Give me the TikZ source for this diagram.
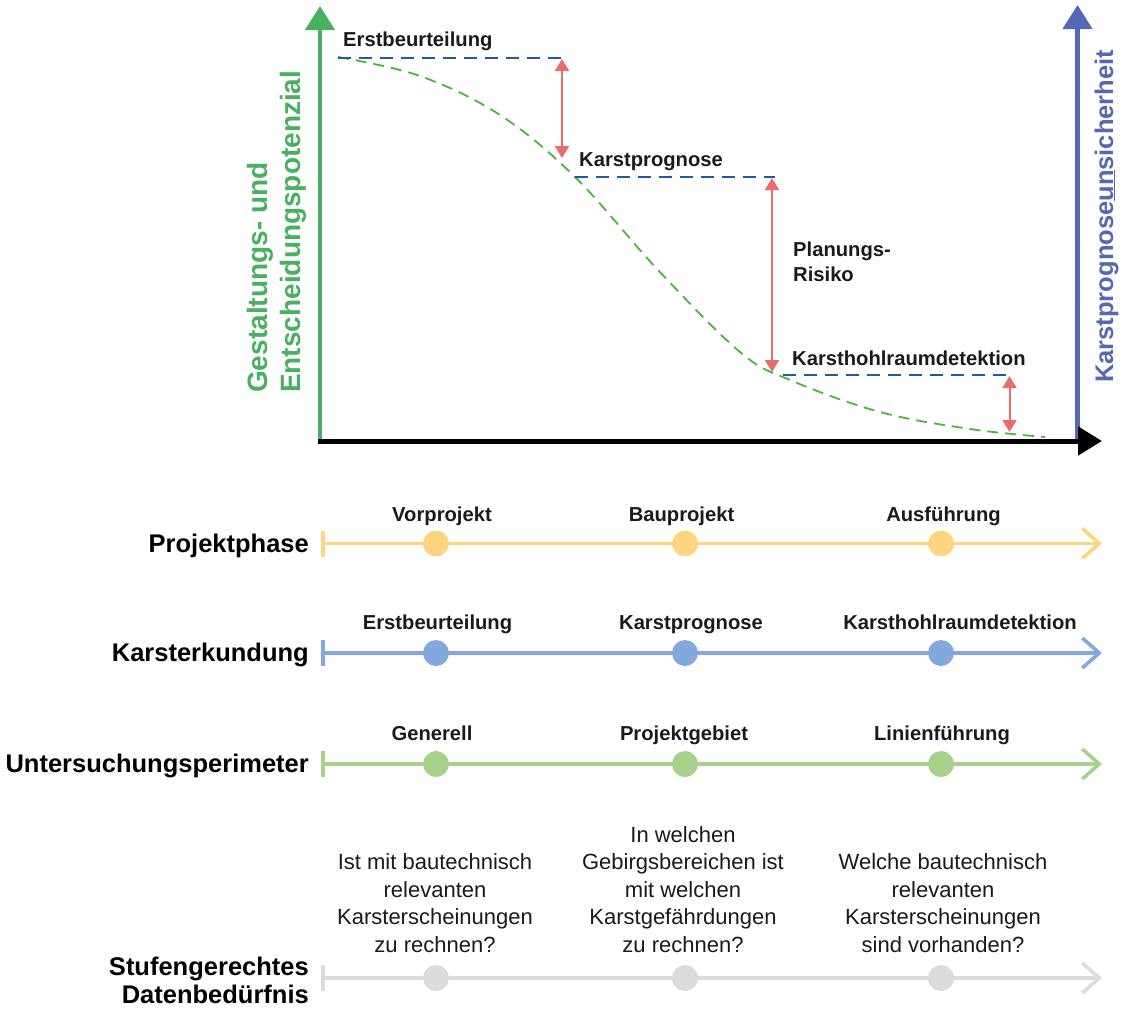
\documentclass[tikz,border=0pt]{standalone}
\usepackage{fontspec}
\setmainfont{Liberation Sans}
\usetikzlibrary{arrows.meta}
\definecolor{axgreen}{HTML}{48B05E}
\definecolor{axblue}{HTML}{5568B3}
\definecolor{curvegreen}{HTML}{4DB33C}
\definecolor{dashblue}{HTML}{1F5C9B}
\definecolor{riskred}{HTML}{EC6B6B}
\definecolor{tyellow}{HTML}{FDD47F}
\definecolor{tblue}{HTML}{82A8DD}
\definecolor{tgreen}{HTML}{A7D28B}
\definecolor{tgray}{HTML}{DCDCDC}
\definecolor{txt}{HTML}{1A1A1A}
\begin{document}
\begin{tikzpicture}[x=1pt,y=-1pt,
  lbl/.style={font=\bfseries\fontsize{20.2}{24}\selectfont, text=txt, inner sep=0pt, anchor=base},
  glbl/.style={lbl, anchor=base west},
  ttl/.style={font=\bfseries\fontsize{25.5}{28}\selectfont, text=black, inner sep=0pt, anchor=base east},
  qst/.style={font=\fontsize{22}{27.5}\selectfont, text=txt, inner sep=0pt, anchor=base, align=center},
  axlbl/.style={font=\bfseries\fontsize{28}{33}\selectfont, text=axgreen, inner sep=0pt, anchor=base west, rotate=90},
  curve/.style={curvegreen, line width=1.8pt, dash pattern=on 11pt off 7pt},
  level/.style={dashblue, line width=2pt, dash pattern=on 13pt off 8pt},
  risk/.style={riskred, line width=2pt, {Triangle[length=12pt,width=14pt]}-{Triangle[length=12pt,width=14pt]}},
  tline/.style={line width=3.6pt, {Bar[width=26pt]}-{Straight Barb[length=17pt,width=30pt]}},
  dot/.style={circle, minimum size=26pt, inner sep=0pt, fill=#1},
]
\useasboundingbox (0,0) rectangle (1127,1009);

% ---- axes ----
\coordinate (o) at (320,441);
\coordinate (gtop) at (320,6);
\coordinate (bbot) at (1077.5,441);
\coordinate (btop) at (1077.5,5);
\coordinate (xs) at (317.8,441);
\coordinate (xe) at (1102,441);
\draw[axgreen, line width=4.5pt, -{Triangle[length=24pt,width=29pt]}] (o) -- (gtop);
\draw[axblue, line width=4.5pt, -{Triangle[length=24pt,width=29pt]}] (bbot) -- (btop);
\draw[black, line width=5pt, -{Triangle[length=24pt,width=28pt]}] (xs) -- (xe);

\node[axlbl] (glab1) at (267,393) {Gestaltungs- und};
\node[axlbl] (glab2) at (300,393) {Entscheidungspotenzial};
\node[axlbl, text=axblue, font=\bfseries\fontsize{25.5}{30}\selectfont] (blab) at (1113,383) {Karstprognose\underline{un}sicherheit};

% ---- curve ----
\draw[curve] plot[smooth, tension=0.6] coordinates {(338,57) (420,76) (500,115) (575,177) (658,270) (740,352) (790,380) (880,412) (970,429) (1045,437)};

% ---- levels ----
\coordinate (l1a) at (338,58);   \coordinate (l1b) at (562,58);
\coordinate (l2a) at (575,177);  \coordinate (l2b) at (775,177);
\coordinate (l3a) at (783,375);  \coordinate (l3b) at (1008,375);
\draw[level] (l1a) -- (l1b);
\draw[level] (l2a) -- (l2b);
\draw[level] (l3a) -- (l3b);

\coordinate (r1a) at (562,59);   \coordinate (r1b) at (562,158);
\coordinate (r2a) at (772,178);  \coordinate (r2b) at (772,372);
\coordinate (r3a) at (1009.5,376); \coordinate (r3b) at (1009.5,432);
\draw[risk] (r1a) -- (r1b);
\draw[risk] (r2a) -- (r2b);
\draw[risk] (r3a) -- (r3b);

\node[glbl] (g1) at (343,46) {Erstbeurteilung};
\node[glbl] (g2) at (579,166) {Karstprognose};
\node[glbl] (g3) at (793,256) {Planungs-};
\node[glbl] (g4) at (793,281) {Risiko};
\node[glbl] (g5) at (792,365) {Karsthohlraumdetektion};

% ---- timelines ----
\foreach \row/\yy/\col in {1/543.5/tyellow, 2/653/tblue, 3/764/tgreen, 4/978/tgray}{
  \coordinate (s\row) at (321,\yy);
  \coordinate (e\row) at (1102,\yy);
  \draw[tline, \col] (s\row) -- (e\row);
  \node[dot=\col] (d\row a) at (436,\yy) {};
  \node[dot=\col] (d\row b) at (685,\yy) {};
  \node[dot=\col] (d\row c) at (941,\yy) {};
}

\node[ttl] (t1) at (309,552) {Projektphase};
\node[ttl] (t2) at (309,661) {Karsterkundung};
\node[ttl] (t3) at (309,772) {Untersuchungsperimeter};
\node[ttl] (t4a) at (309,975) {Stufengerechtes};
\node[ttl] (t4b) at (309,1003) {Datenbedürfnis};

\node[lbl] (p1) at (442,521) {Vorprojekt};
\node[lbl] (p2) at (681.5,521) {Bauprojekt};
\node[lbl] (p3) at (943.5,521) {Ausführung};

\node[lbl] (k1) at (437.5,629) {Erstbeurteilung};
\node[lbl] (k2) at (691,629) {Karstprognose};
\node[lbl] (k3) at (960,629) {Karsthohlraumdetektion};

\node[lbl] (u1) at (432,740) {Generell};
\node[lbl] (u2) at (684,740) {Projektgebiet};
\node[lbl] (u3) at (942,740) {Linienführung};

\node[qst] (q1) at (435,952) {Ist mit bautechnisch\\relevanten\\Karsterscheinungen\\zu rechnen?};
\node[qst] (q2) at (683,952) {In welchen\\Gebirgsbereichen ist\\mit welchen\\Karstgefährdungen\\zu rechnen?};
\node[qst] (q3) at (943,952) {Welche bautechnisch\\relevanten\\Karsterscheinungen\\sind vorhanden?};
\end{tikzpicture}
\end{document}
